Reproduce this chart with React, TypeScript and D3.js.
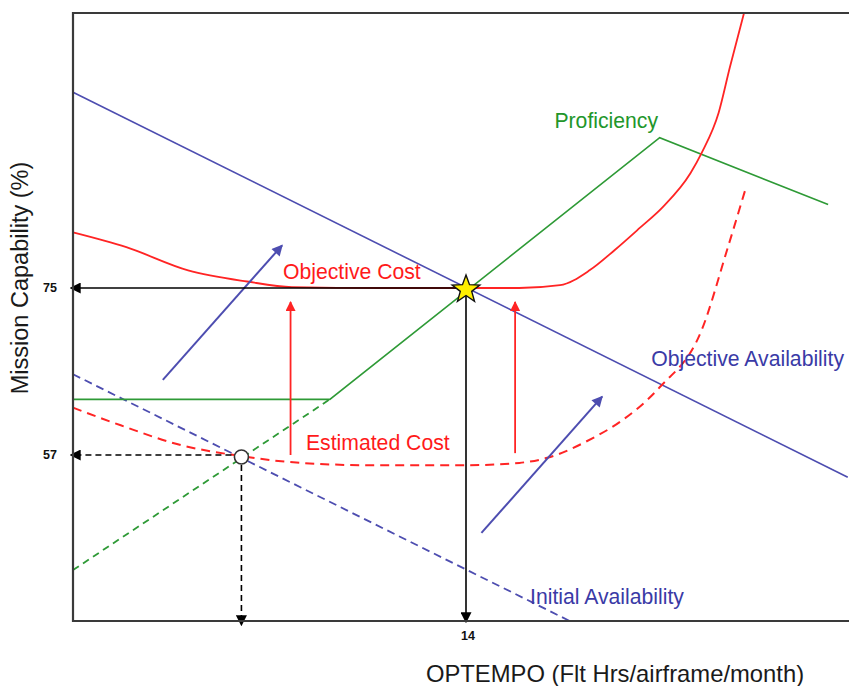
import React from 'react'
import * as d3 from 'd3'

// values, in (OPTEMPO, capability %) units
const xTicks = [14]
const yTicks = [57, 75]

const objectiveAvailability: [number, number][] = [[0, 96.1], [27.6, 54.6]]
const initialAvailability: [number, number][] = [[0, 65.7], [17.7, 39.1]]
const proficiency: [number, number][] = [[0, 63.0], [9.15, 63.0], [20.9, 91.2], [26.9, 84.0]]
const proficiencyInitial: [number, number][] = [[0, 44.6], [9.15, 63.0]]
const objectiveCost: [number, number][] = [
  [0, 81.0], [1.9, 79.4], [4.1, 76.9], [6.2, 75.7], [7.8, 75.1], [11, 75.0],
  [14, 75.0], [15.9, 75.0], [17.35, 75.3], [18.4, 76.9], [19.3, 79.1], [20.2, 81.5],
  [21.0, 83.7], [22.0, 87.4], [22.4, 89.6], [23.0, 93.9], [23.4, 98.8], [23.9, 104.6],
]
const estimatedCost: [number, number][] = [
  [0, 62.1], [1.7, 60.2], [3.8, 58.1], [5.95, 56.9], [8.1, 56.15], [10.6, 55.9],
  [14.1, 55.9], [15.9, 56.15], [16.9, 56.7], [18.5, 58.8], [19.5, 60.6], [20.9, 64.3],
  [22.4, 70.5], [23.3, 79.1], [23.95, 85.6],
]

const objectivePoint = { x: 14, y: 75 }
const initialPoint = { x: 6, y: 57 }

// red "cost" arrows: x, from, to
const costArrows = [[7.75, 57, 73.5], [15.75, 57.2, 73.5]]
// blue "availability" arrows: x1, y1, x2, y2
const availArrows = [[3.2, 65.1, 7.45, 79.6], [14.55, 48.6, 18.85, 63.3]]

const labels = [
  { text: 'Proficiency', x: 17.15, y: 92.2, color: '#22962a' },
  { text: 'Objective Cost', x: 7.48, y: 76.0, color: '#ff1a1a' },
  { text: 'Estimated Cost', x: 8.3, y: 57.5, color: '#ff1a1a' },
  { text: 'Objective Availability', x: 20.6, y: 66.6, color: '#3a3aa6' },
  { text: 'Initial Availability', x: 16.28, y: 40.9, color: '#3a3aa6' },
]

const W = 849
const H = 686
const left = 73
const top = 13
const bottom = 621

export default function App() {
  const x = d3.scaleLinear().domain([0, 14]).range([left, 466])
  const y = d3.scaleLinear().domain([57, 75]).range([455, 288])

  const straight = d3.line<[number, number]>().x((d) => x(d[0])).y((d) => y(d[1]))
  const smooth = d3
    .line<[number, number]>()
    .x((d) => x(d[0]))
    .y((d) => y(d[1]))
    .curve(d3.curveMonotoneX)

  const blue = '#4d4db0'
  const green = '#2e9a36'
  const red = '#ff2424'

  // 5-point star
  const starPts = d3.range(10).map((i) => {
    const r = i % 2 === 0 ? 14.5 : 6
    const a = (Math.PI / 5) * i - Math.PI / 2
    return [x(objectivePoint.x) + r * Math.cos(a), y(objectivePoint.y) + 1.5 + r * Math.sin(a)]
  })

  const font = '"Liberation Sans", Arial, sans-serif'

  return (
    <svg
      width={W}
      height={H}
      style={{ position: 'absolute', left: 0, top: 0, background: '#fff' }}
    >
      <defs>
        <marker id="ab" viewBox="0 0 10 10" refX="7" refY="5" markerWidth="11" markerHeight="11"
          markerUnits="userSpaceOnUse" orient="auto">
          <path d="M0,0 L10,5 L0,10 z" fill="#000" />
        </marker>
        <marker id="ar" viewBox="0 0 10 10" refX="9" refY="5" markerWidth="12" markerHeight="10"
          markerUnits="userSpaceOnUse" orient="auto">
          <path d="M0,0 L10,5 L0,10 z" fill={red} />
        </marker>
        <marker id="abl" viewBox="0 0 10 10" refX="9" refY="5" markerWidth="14" markerHeight="11"
          markerUnits="userSpaceOnUse" orient="auto">
          <path d="M0,0 L10,5 L0,10 z" fill={blue} />
        </marker>
      </defs>

      {/* availability lines */}
      <path d={straight(objectiveAvailability) || ''} fill="none" stroke={blue} strokeWidth={1.6} />
      <path d={straight(initialAvailability) || ''} fill="none" stroke={blue} strokeWidth={1.8}
        strokeDasharray="8 5" />

      {/* proficiency */}
      <path d={straight(proficiency) || ''} fill="none" stroke={green} strokeWidth={1.6} />
      <path d={straight(proficiencyInitial) || ''} fill="none" stroke={green} strokeWidth={1.8}
        strokeDasharray="7 5" />

      {/* cost curves */}
      <path d={smooth(objectiveCost) || ''} fill="none" stroke={red} strokeWidth={1.8} />
      <path d={smooth(estimatedCost) || ''} fill="none" stroke={red} strokeWidth={2}
        strokeDasharray="9 6" />

      {/* red shift arrows */}
      {costArrows.map((a, i) => (
        <line key={`ca-${i}`} x1={x(a[0])} x2={x(a[0])} y1={y(a[1])} y2={y(a[2])}
          stroke={red} strokeWidth={1.8} markerEnd="url(#ar)" />
      ))}

      {/* blue shift arrows */}
      {availArrows.map((a, i) => (
        <line key={`aa-${i}`} x1={x(a[0])} y1={y(a[1])} x2={x(a[2])} y2={y(a[3])}
          stroke={blue} strokeWidth={2} markerEnd="url(#abl)" />
      ))}

      {/* reference lines to the axes */}
      <line x1={x(objectivePoint.x)} y1={y(objectivePoint.y)} x2={left} y2={y(objectivePoint.y)}
        stroke="#000" strokeWidth={1.6} markerEnd="url(#ab)" />
      <line x1={x(objectivePoint.x)} y1={y(objectivePoint.y)} x2={x(objectivePoint.x)} y2={bottom - 1}
        stroke="#000" strokeWidth={1.6} markerEnd="url(#ab)" />
      <line x1={x(initialPoint.x)} y1={y(initialPoint.y)} x2={left} y2={y(initialPoint.y)}
        stroke="#000" strokeWidth={1.6} strokeDasharray="6 4" markerEnd="url(#ab)" />
      <line x1={x(initialPoint.x)} y1={y(initialPoint.y)} x2={x(initialPoint.x)} y2={bottom + 2}
        stroke="#000" strokeWidth={1.6} strokeDasharray="6 4" markerEnd="url(#ab)" />

      {/* frame */}
      <path d={`M${W},${top} H${left} V${bottom} H${W}`} fill="none" stroke="#3a3a3a" strokeWidth={2.2} />

      {/* markers */}
      <circle cx={x(initialPoint.x)} cy={y(initialPoint.y) + 2} r={7} fill="#fff" stroke="#333" strokeWidth={1.6} />
      <polygon points={starPts.map((p) => p.join(',')).join(' ')} fill="#ffee00" stroke="#111" strokeWidth={1.4} />

      {/* tick labels */}
      {yTicks.map((t) => (
        <text key={`yt-${t}`} x={57} y={y(t) + 4} textAnchor="end" fontFamily={font} fontSize={12.5}
          fontWeight="bold" fill="#111">{t}</text>
      ))}
      {xTicks.map((t) => (
        <text key={`xt-${t}`} x={x(t) + 2} y={640} textAnchor="middle" fontFamily={font} fontSize={12.5}
          fontWeight="bold" fill="#111">{t}</text>
      ))}

      {/* series labels */}
      {labels.map((l) => (
        <text key={l.text} x={x(l.x)} y={y(l.y)} fontFamily={font} fontSize={21.2} fill={l.color}>
          {l.text}
        </text>
      ))}

      {/* axis titles */}
      <text x={615} y={682} textAnchor="middle" fontFamily={font} fontSize={23.8} fill="#1a1a1a">
        OPTEMPO (Flt Hrs/airframe/month)
      </text>
      <text transform="translate(28,278) rotate(-90)" textAnchor="middle" fontFamily={font}
        fontSize={23.5} fill="#1a1a1a">
        Mission Capability (%)
      </text>
    </svg>
  )
}
